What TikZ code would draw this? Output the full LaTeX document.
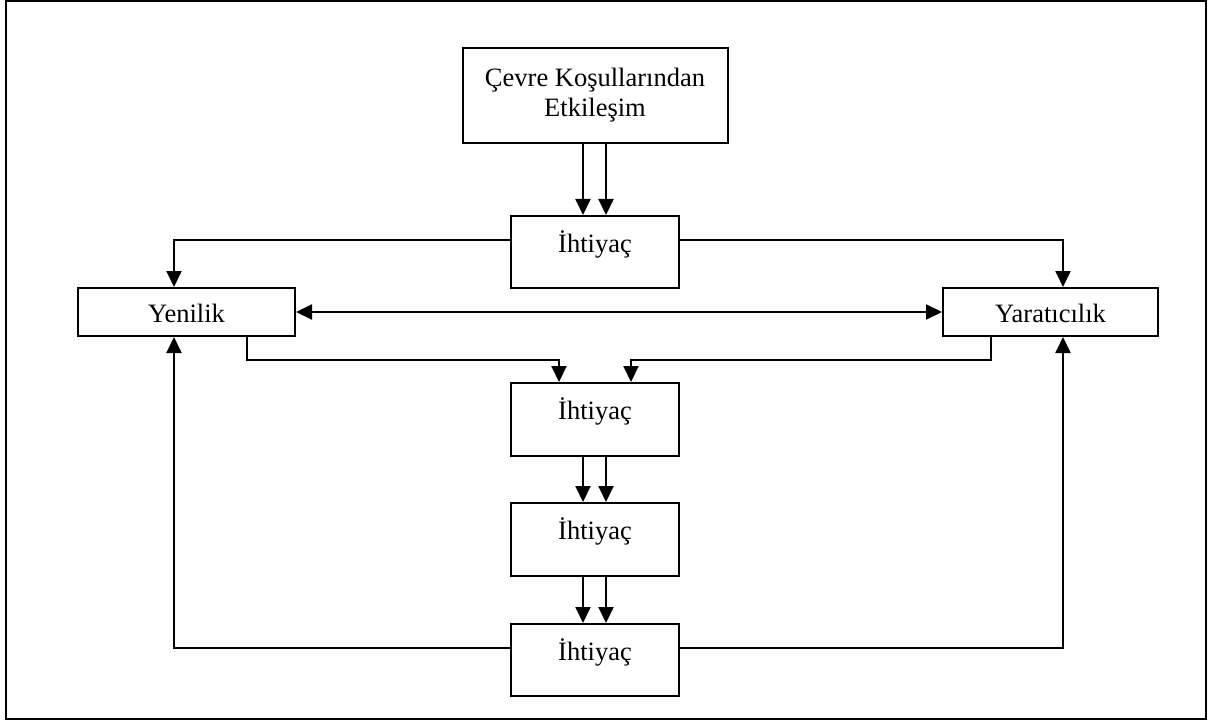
\documentclass[tikz,border=0pt]{standalone}
\usepackage{fontspec}
\setmainfont{Liberation Serif}
\usetikzlibrary{arrows.meta}

\begin{document}
\begin{tikzpicture}[x=1pt,y=-1pt,line width=2pt]
\tikzstyle{every node}+=[inner sep=0pt,font=\fontsize{26.5}{30}\selectfont]
\tikzstyle{box}=[draw=black,rectangle,align=center]
\tikzstyle{needbox}=[box,minimum width=168pt,text height=14pt,text depth=14pt]
\tikzstyle{sidebox}=[box,minimum height=48pt,text height=20pt,text depth=0pt]
\tikzstyle{arr}=[-{Triangle[width=15pt,length=16pt]}]
\useasboundingbox (0,0) rectangle (1210,722);
\draw [black] (6,1) rectangle (1206,719);
\node [box,minimum width=265pt,minimum height=95pt] (env) at (595,95.5) {Çevre Koşullarından\\Etkileşim};
\node [needbox,minimum height=72pt] (need1) at (595,252) {İhtiyaç};
\node [sidebox,minimum width=217pt] (yen) at (186.5,312) {Yenilik};
\node [sidebox,minimum width=215pt] (yar) at (1050.5,312) {Yaratıcılık};
\node [needbox,minimum height=73pt] (need2) at (595,419.5) {İhtiyaç};
\node [needbox,minimum height=73pt] (need3) at (595,539.5) {İhtiyaç};
\node [needbox,minimum height=72pt] (need4) at (595,660) {İhtiyaç};
\draw [arr] ([xshift=-12pt]env.south) -- ([xshift=-12pt]need1.north);
\draw [arr] ([xshift=11pt]env.south) -- ([xshift=11pt]need1.north);
\draw [arr] ([yshift=12pt]need1.west) -| ([xshift=-12.5pt]yen.north);
\draw [arr] ([yshift=12pt]need1.east) -| ([xshift=12.5pt]yar.north);
\draw [{Triangle[width=15pt,length=16pt]}-{Triangle[width=15pt,length=16pt]}] (yen.east) -- (yar.west);
\draw [arr] ([xshift=60.5pt]yen.south) -- ++(0,23) -| ([xshift=-36pt]need2.north);
\draw [arr] ([xshift=-59.5pt]yar.south) -- ++(0,23) -| ([xshift=36pt]need2.north);
\draw [arr] ([xshift=-12pt]need2.south) -- ([xshift=-12pt]need3.north);
\draw [arr] ([xshift=11pt]need2.south) -- ([xshift=11pt]need3.north);
\draw [arr] ([xshift=-12pt]need3.south) -- ([xshift=-12pt]need4.north);
\draw [arr] ([xshift=11pt]need3.south) -- ([xshift=11pt]need4.north);
\draw [arr] ([yshift=12pt]need4.west) -| ([xshift=-12.5pt]yen.south);
\draw [arr] ([yshift=12pt]need4.east) -| ([xshift=12.5pt]yar.south);
\end{tikzpicture}
\end{document}
